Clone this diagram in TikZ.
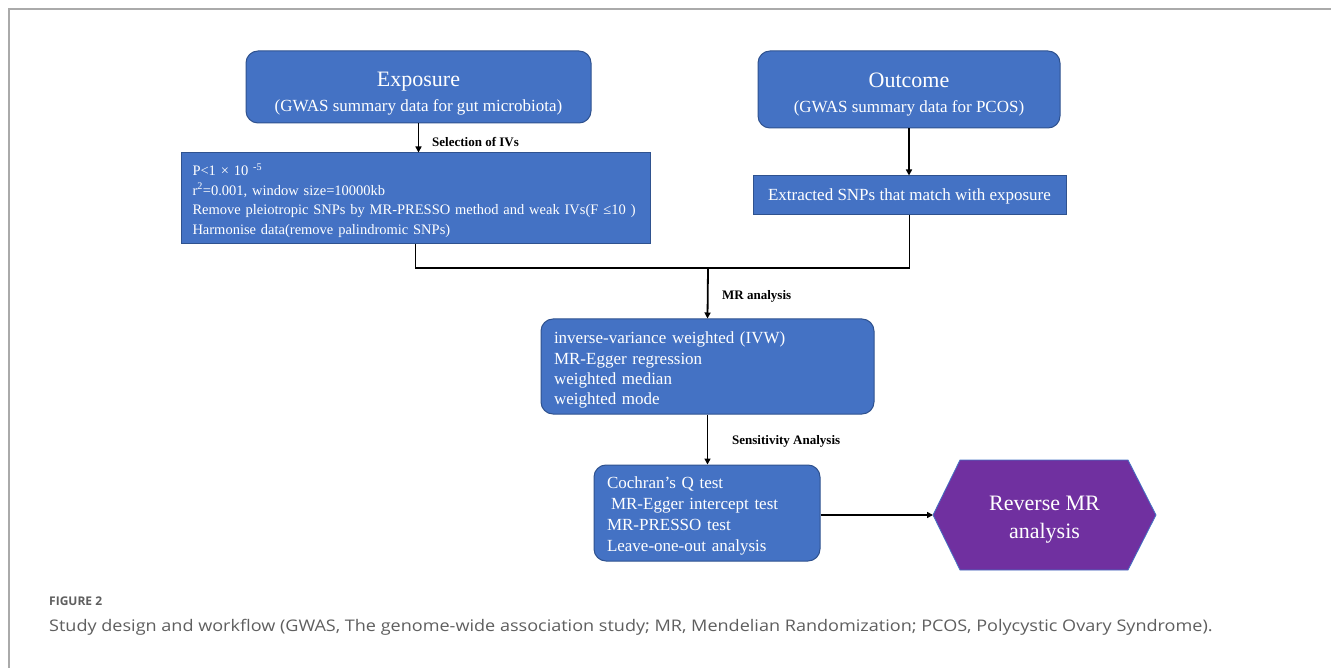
\documentclass[tikz,border=0pt]{standalone}
\usepackage{fontspec}
\setmainfont{Liberation Serif}
\newfontfamily\capfont{Open Sans}
\usetikzlibrary{arrows.meta}
\definecolor{boxblue}{HTML}{4472C4}
\definecolor{boxedge}{HTML}{2F528F}
\definecolor{hexpurple}{HTML}{7030A0}
\definecolor{framegray}{HTML}{AAAAAA}
\definecolor{capgray}{HTML}{5F5F5F}
\newcommand{\upstrut}[1]{\rule{0pt}{#1}}
\begin{document}
\begin{tikzpicture}[x=1pt,y=-1pt,
 box/.style={draw=boxedge, fill=boxblue, line width=1pt, text=white, inner sep=0pt},
 roundbox/.style={box, rounded corners=12pt},
 conn/.style={line width=1.8pt},
 arr/.style={conn, -{Triangle[length=6pt,width=6pt]}},
 lbl/.style={font=\fontsize{13}{15}\selectfont\bfseries, anchor=west, inner sep=0pt},
]
\useasboundingbox (0,0) rectangle (1331,668);
\fill[white] (0,0) rectangle (1331,668);
\draw[framegray, line width=1.5pt] (9,668) -- (9,9) -- (1331,9);

\node[roundbox, minimum width=345pt, minimum height=72pt, align=center, font=\fontsize{17}{25}\selectfont] (exp) at (418.5,87)
  {\upstrut{27pt}{\fontsize{22}{25}\selectfont Exposure}\\(GWAS summary data for gut microbiota)};
\node[roundbox, minimum width=302pt, minimum height=77pt, align=center, font=\fontsize{17}{25}\selectfont] (out) at (909,89.5)
  {\upstrut{24pt}{\fontsize{22}{25}\selectfont Outcome}\\(GWAS summary data for PCOS)};

\node[box, minimum width=469pt, minimum height=91pt, text width=446pt, align=left, font=\fontsize{14.5}{19.5}\selectfont] (iv) at (415.5,198.5)
  {\upstrut{16pt}P<1 × 10 \textsuperscript{-5}\\
   r\textsuperscript{2}=0.001, window size=10000kb\\
   Remove pleiotropic SNPs by MR-PRESSO method and weak IVs(F ≤10\hspace{5pt})\\
   Harmonise data(remove palindromic SNPs)};
\node[box, minimum width=313pt, minimum height=39pt, font=\fontsize{17}{20}\selectfont] (ext) at (909.5,195.5)
  {\upstrut{14.5pt}Extracted SNPs that match with exposure};

\node[roundbox, minimum width=333pt, minimum height=95pt, text width=307pt, align=left, font=\fontsize{17}{20.3}\selectfont] (mr) at (707.5,366.5)
  {\upstrut{19pt}inverse-variance weighted (IVW)\\
   MR-Egger regression\\
   weighted median\\
   weighted mode};

\node[roundbox, minimum width=226pt, minimum height=96pt, text width=200pt, align=left, font=\fontsize{17}{21}\selectfont] (sens) at (707,513)
  {\upstrut{17.5pt}Cochran's Q test\\
   \hspace*{4pt}MR-Egger intercept test\\
   MR-PRESSO test\\
   Leave-one-out analysis};

\fill[hexpurple, draw=boxblue, line width=0.8pt] (933,515) -- (960,460) -- (1128,460) -- (1156,515) -- (1128,570) -- (960,570) -- cycle;
\node[text=white, align=center, font=\fontsize{22}{28}\selectfont] (hex) at (1044.5,520) {Reverse MR\\analysis};
\coordinate (hexW) at (933,515);

\coordinate (j) at (708,268);
\draw[arr] (exp.south) -- (exp.south |- iv.north);
\draw[arr] (out.south) -- (out.south |- ext.north);
\draw[conn] (iv.south) |- (j) -| (ext.south);
\draw[arr] (j) -- (mr.north);
\draw[arr] (mr.south) -- (mr.south |- sens.north);
\draw[arr] (sens.east |- hexW) -- (hexW);

\node[lbl] (l1) at (432,142) {Selection of IVs};
\node[lbl] (l2) at (722,296) {MR analysis};
\node[lbl] (l3) at (732,441) {Sensitivity Analysis};

\node[anchor=west, inner sep=0pt, text=capgray, font=\capfont\bfseries\fontsize{12}{14}\selectfont] (figlbl) at (49,601) {FIGURE 2};
\node[anchor=west, inner sep=0pt, text=capgray, font=\capfont\fontsize{16}{19}\selectfont] (cap) at (49,627)
  {\scalebox{1.128}[1]{Study design and workflow (GWAS, The genome-wide association study; MR, Mendelian Randomization; PCOS, Polycystic Ovary Syndrome).}};
\end{tikzpicture}
\end{document}
